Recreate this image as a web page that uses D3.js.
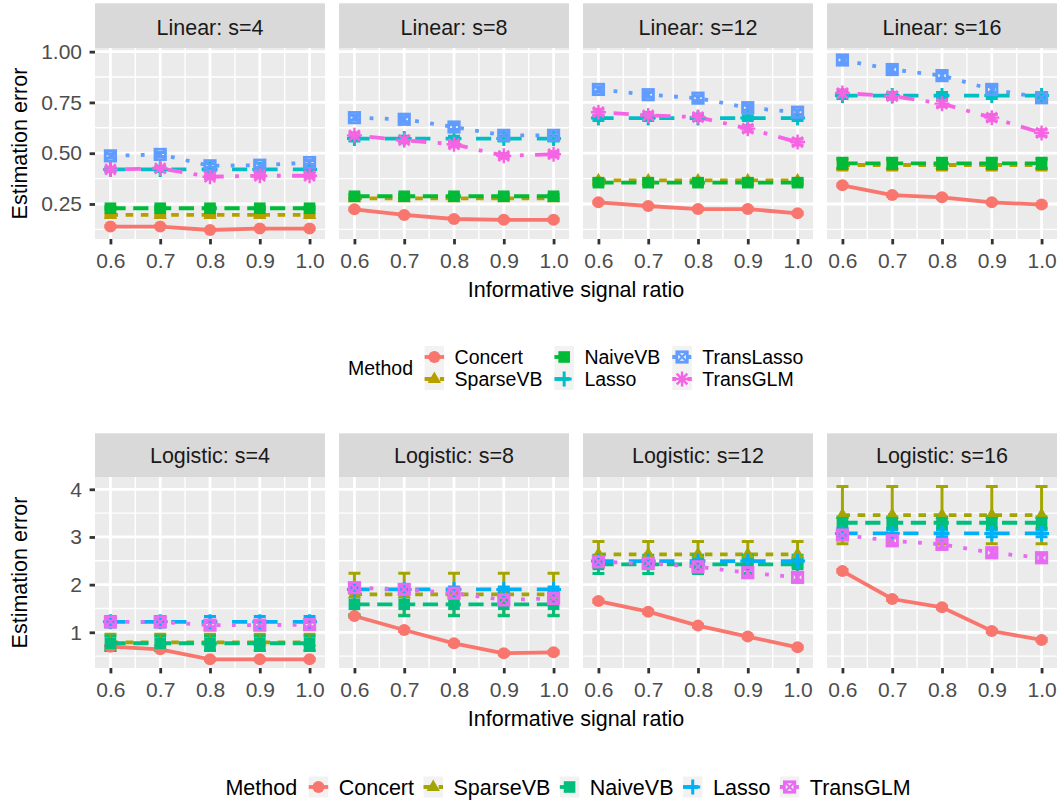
<!DOCTYPE html>
<html>
<head>
<meta charset="utf-8">
<script src="https://cdn.jsdelivr.net/npm/d3@7"></script>
<style>
  body { margin: 0; background: #fff; }
  svg { display: block; }
  text { font-family: "Liberation Sans", Arial, Helvetica, sans-serif; }
</style>
</head>
<body>
<div id="chart"></div>
<script>
/* -----------------    DATA     ------------------ */

const ratios = [0.6, 0.7, 0.8, 0.9, 1.0];
const ratioMinor = [0.65, 0.75, 0.85, 0.95];
const sizes = [4, 8, 12, 16];

const linearMethods = ['Concert', 'SparseVB', 'NaiveVB', 'Lasso', 'TransLasso', 'TransGLM'];
const logisticMethods = ['Concert', 'SparseVB', 'NaiveVB', 'Lasso', 'TransGLM'];

const linearTicks = [0.25, 0.50, 0.75, 1.00];
const linearMinor = [0.125, 0.375, 0.625, 0.875];
const logisticTicks = [1, 2, 3, 4];
const logisticMinor = [0.5, 1.5, 2.5, 3.5];

// Linear model, one row per s = 4, 8, 12, 16
const linConcert = [
    [0.139, 0.139, 0.122, 0.129, 0.129],
    [0.224, 0.196, 0.176, 0.172, 0.172],
    [0.258, 0.240, 0.225, 0.225, 0.204],
    [0.342, 0.294, 0.283, 0.258, 0.247]
];
const linSparseVB = [
    [0.196, 0.196, 0.196, 0.196, 0.196],
    [0.278, 0.278, 0.278, 0.278, 0.278],
    [0.366, 0.366, 0.366, 0.366, 0.366],
    [0.442, 0.442, 0.442, 0.442, 0.442]
];
const linNaiveVB = [
    [0.229, 0.229, 0.229, 0.229, 0.229],
    [0.288, 0.288, 0.288, 0.288, 0.288],
    [0.355, 0.355, 0.355, 0.355, 0.355],
    [0.450, 0.450, 0.450, 0.450, 0.450]
];
const linLasso = [
    [0.420, 0.420, 0.420, 0.420, 0.420],
    [0.572, 0.572, 0.572, 0.572, 0.572],
    [0.673, 0.673, 0.673, 0.673, 0.673],
    [0.784, 0.784, 0.784, 0.784, 0.784]
];
const linTransLasso = [
    [0.487, 0.494, 0.438, 0.441, 0.454],
    [0.675, 0.667, 0.629, 0.588, 0.588],
    [0.814, 0.788, 0.771, 0.724, 0.702],
    [0.959, 0.912, 0.882, 0.814, 0.773]
];
const linTransGLM = [
    [0.420, 0.425, 0.384, 0.389, 0.389],
    [0.588, 0.564, 0.544, 0.487, 0.495],
    [0.702, 0.686, 0.678, 0.621, 0.555],
    [0.796, 0.781, 0.744, 0.675, 0.600]
];
// half width of the error bars, one per s
const linConcertErr = [0.004, 0.005, 0.005, 0.006];
const linSparseVBErr = [0.006, 0.008, 0.010, 0.025];
const linNaiveVBErr = [0.008, 0.010, 0.012, 0.025];
const linLassoErr = [0.010, 0.012, 0.012, 0.015];
const linTransLassoErr = [0.010, 0.012, 0.012, 0.015];
const linTransGLMErr = [0.010, 0.012, 0.015, 0.015];

// Logistic model, one row per s = 4, 8, 12, 16
const logConcert = [
    [0.698, 0.643, 0.434, 0.434, 0.434],
    [1.342, 1.048, 0.769, 0.560, 0.580],
    [1.656, 1.432, 1.140, 0.910, 0.685],
    [2.285, 1.698, 1.524, 1.027, 0.840]
];
const logSparseVB = [
    [0.790, 0.790, 0.790, 0.790, 0.790],
    [1.797, 1.797, 1.797, 1.797, 1.797],
    [2.635, 2.635, 2.635, 2.635, 2.635],
    [3.459, 3.459, 3.459, 3.459, 3.459]
];
const logNaiveVB = [
    [0.770, 0.770, 0.770, 0.770, 0.770],
    [1.587, 1.587, 1.587, 1.587, 1.587],
    [2.425, 2.425, 2.425, 2.425, 2.425],
    [3.298, 3.298, 3.298, 3.298, 3.298]
];
const logLasso = [
    [1.220, 1.220, 1.220, 1.220, 1.220],
    [1.900, 1.900, 1.900, 1.900, 1.900],
    [2.495, 2.495, 2.495, 2.495, 2.495],
    [3.075, 3.075, 3.075, 3.075, 3.075]
];
const logTransGLM = [
    [1.220, 1.220, 1.150, 1.150, 1.160],
    [1.935, 1.900, 1.820, 1.680, 1.710],
    [2.480, 2.446, 2.375, 2.250, 2.153],
    [3.040, 2.920, 2.845, 2.669, 2.564]
];
const logConcertErr = [0.02, 0.03, 0.03, 0.03];
const logSparseVBErr = [0.17, 0.44, 0.27, 0.60];
const logNaiveVBErr = [0.15, 0.24, 0.19, 0.12];
const logLassoErr = [0.11, 0.05, 0.05, 0.07];
const logTransGLMErr = [0.06, 0.08, 0.08, 0.08];

/* -----------------    STYLE     ------------------ */

const linearColors = ['#F8766D', '#B79F00', '#00BA38', '#00BFC4', '#619CFF', '#F564E3'];
const logisticColors = ['#F8766D', '#A3A500', '#00BF7D', '#00B0F6', '#E76BF3'];
const linearShapes = ['circle', 'triangle', 'square', 'plus', 'squareX', 'asterisk'];
const logisticShapes = ['circle', 'triangle', 'square', 'plus', 'squareX'];
const linearDashes = ['solid', '22', '42', '44', '13', '1343'];
const logisticDashes = ['solid', '22', '42', '44', '13'];

const lineW = 3.8;
const fontMain = 21.5;
const fontTick = 21;
const panelW = 230;
const panelLefts = [95, 339, 583, 827];
const errWidth = 0.024;

const dashArray = code => code === 'solid' ? null :
    code.split('').map(c => (+c) * lineW).join(',');

/* -----------------    LOGIC     ------------------ */

const svg = d3.select('#chart')
    .append('svg')
    .attr('width', 1060)
    .attr('height', 804);

const x = d3.scaleLinear().domain([0.569, 1.031]).range([0, panelW]);

function drawShape(g, shape, color) {
    if (shape === 'circle') {
        g.append('circle').attr('r', 6).attr('fill', color);
    } else if (shape === 'triangle') {
        g.append('path').attr('d', 'M0,-7.6L6.7,4L-6.7,4Z').attr('fill', color);
    } else if (shape === 'square') {
        g.append('rect').attr('x', -5.8).attr('y', -5.8)
            .attr('width', 11.6).attr('height', 11.6).attr('fill', color);
    } else if (shape === 'plus') {
        g.append('path').attr('d', 'M-7.5,0H7.5M0,-7.5V7.5')
            .attr('stroke', color).attr('stroke-width', 3).attr('fill', 'none');
    } else if (shape === 'squareX') {
        g.append('rect').attr('x', -5.2).attr('y', -5.2)
            .attr('width', 10.4).attr('height', 10.4)
            .attr('fill', 'none').attr('stroke', color).attr('stroke-width', 2.8);
        g.append('path').attr('d', 'M-5.2,-5.2L5.2,5.2M5.2,-5.2L-5.2,5.2')
            .attr('stroke', color).attr('stroke-width', 2.2);
    } else if (shape === 'asterisk') {
        g.append('path')
            .attr('d', 'M-7.5,0H7.5M0,-7.5V7.5M-5.3,-5.3L5.3,5.3M5.3,-5.3L-5.3,5.3')
            .attr('stroke', color).attr('stroke-width', 2.4).attr('fill', 'none');
    }
}

function drawFacetRow(cfg) {
    const y = d3.scaleLinear().domain(cfg.yDomain).range([cfg.bottom, cfg.top]);
    const line = d3.line().x(d => x(d.r)).y(d => y(d.v));

    sizes.forEach((s, p) => {
        const g = svg.append('g').attr('transform', `translate(${panelLefts[p]},0)`);

        // strip
        g.append('rect')
            .attr('x', 0).attr('y', cfg.stripTop)
            .attr('width', panelW).attr('height', cfg.top - cfg.stripTop)
            .attr('fill', '#D9D9D9');
        g.append('text')
            .attr('x', panelW / 2).attr('y', cfg.stripBase)
            .attr('text-anchor', 'middle')
            .attr('font-size', fontMain)
            .attr('fill', '#1A1A1A')
            .text(`${cfg.label}: s=${s}`);

        // panel background + grid
        g.append('rect')
            .attr('x', 0).attr('y', cfg.top)
            .attr('width', panelW).attr('height', cfg.bottom - cfg.top)
            .attr('fill', '#EBEBEB');

        const grid = g.append('g').attr('stroke', '#fff');
        grid.selectAll('.ymin').data(cfg.yMinor).enter().append('line')
            .attr('x1', 0).attr('x2', panelW)
            .attr('y1', d => y(d)).attr('y2', d => y(d))
            .attr('stroke-width', 1.4);
        grid.selectAll('.xmin').data(ratioMinor).enter().append('line')
            .attr('y1', cfg.top).attr('y2', cfg.bottom)
            .attr('x1', d => x(d)).attr('x2', d => x(d))
            .attr('stroke-width', 1.4);
        grid.selectAll('.ymaj').data(cfg.yTicks).enter().append('line')
            .attr('x1', 0).attr('x2', panelW)
            .attr('y1', d => y(d)).attr('y2', d => y(d))
            .attr('stroke-width', 2.8);
        grid.selectAll('.xmaj').data(ratios).enter().append('line')
            .attr('y1', cfg.top).attr('y2', cfg.bottom)
            .attr('x1', d => x(d)).attr('x2', d => x(d))
            .attr('stroke-width', 2.8);

        const rows = cfg.series.map((ser, m) => ratios.map((r, i) => ({
            r, v: ser[p][i], e: cfg.errs[m][p]
        })));

        // lines
        rows.forEach((data, m) => {
            g.append('path')
                .datum(data)
                .attr('d', line)
                .attr('fill', 'none')
                .attr('stroke', cfg.colors[m])
                .attr('stroke-width', lineW)
                .attr('stroke-dasharray', dashArray(cfg.dashes[m]));
        });

        // error bars
        rows.forEach((data, m) => {
            const eb = g.append('g')
                .attr('stroke', cfg.colors[m])
                .attr('stroke-width', 3)
                .attr('fill', 'none');
            eb.selectAll('path').data(data).enter().append('path')
                .attr('d', d => {
                    const x0 = x(d.r - errWidth / 2), x1 = x(d.r + errWidth / 2);
                    const yt = y(d.v + d.e), yb = y(d.v - d.e);
                    return `M${x0},${yt}H${x1}M${x(d.r)},${yt}V${yb}M${x0},${yb}H${x1}`;
                });
        });

        // points
        rows.forEach((data, m) => {
            data.forEach(d => {
                const pg = g.append('g').attr('transform', `translate(${x(d.r)},${y(d.v)})`);
                drawShape(pg, cfg.shapes[m], cfg.colors[m]);
            });
        });

        // x axis
        const xa = g.append('g')
            .attr('transform', `translate(0,${cfg.bottom})`)
            .call(d3.axisBottom(x).tickValues(ratios).tickFormat(d3.format('.1f'))
                .tickSize(5.4).tickPadding(8.5));
        styleAxis(xa);

        // y axis, first column only
        if (p === 0) {
            const ya = g.append('g')
                .call(d3.axisLeft(y).tickValues(cfg.yTicks).tickFormat(cfg.yFormat)
                    .tickSize(5.4).tickPadding(7.6));
            styleAxis(ya);
        }
    });

    // axis titles
    svg.append('text')
        .attr('transform', `translate(27,${(cfg.top + cfg.bottom) / 2}) rotate(-90)`)
        .attr('text-anchor', 'middle')
        .attr('font-size', fontMain)
        .attr('fill', '#000')
        .text('Estimation error');
    svg.append('text')
        .attr('x', (panelLefts[0] + panelLefts[3] + panelW) / 2)
        .attr('y', cfg.bottom + 58)
        .attr('text-anchor', 'middle')
        .attr('font-size', fontMain)
        .attr('fill', '#000')
        .text('Informative signal ratio');
}

function styleAxis(a) {
    a.select('.domain').remove();
    a.selectAll('.tick line').attr('stroke', '#333333').attr('stroke-width', 2.8);
    a.selectAll('.tick text')
        .attr('fill', '#4D4D4D')
        .attr('font-size', fontTick)
        .attr('font-family', '"Liberation Sans", Arial, sans-serif');
}

function drawKey(g, color, shape, dash, kw, kh) {
    g.append('rect').attr('width', kw).attr('height', kh).attr('fill', '#F2F2F2');
    g.append('line')
        .attr('x1', 0).attr('x2', kw)
        .attr('y1', kh / 2).attr('y2', kh / 2)
        .attr('stroke', color).attr('stroke-width', lineW)
        .attr('stroke-dasharray', dashArray(dash));
    const pg = g.append('g').attr('transform', `translate(${kw / 2},${kh / 2})`);
    drawShape(pg, shape, color);
}

function drawLegend(cfg) {
    const lg = svg.append('g');
    const kw = 19.5, kh = cfg.keyH;
    const keysTop = cfg.midY - kh * cfg.rows / 2;
    const title = lg.append('text')
        .attr('x', 0).attr('y', cfg.midY)
        .attr('dy', '0.35em')
        .attr('font-size', cfg.font)
        .attr('fill', '#000')
        .text('Method');
    let cx = title.node().getComputedTextLength() + 11.6;
    const nCol = Math.ceil(cfg.methods.length / cfg.rows);
    for (let c = 0; c < nCol; c++) {
        let maxW = 0;
        for (let r = 0; r < cfg.rows; r++) {
            const m = c * cfg.rows + r;
            if (m >= cfg.methods.length) break;
            const top = keysTop + r * kh;
            const kg = lg.append('g').attr('transform', `translate(${cx},${top})`);
            drawKey(kg, cfg.colors[m], cfg.shapes[m], cfg.dashes[m], kw, kh);
            const t = lg.append('text')
                .attr('x', cx + kw + 10.5).attr('y', top + kh / 2)
                .attr('dy', '0.35em')
                .attr('font-size', cfg.font)
                .attr('fill', '#000')
                .text(cfg.methods[m]);
            maxW = Math.max(maxW, t.node().getComputedTextLength());
        }
        cx += kw + 10.5 + maxW + cfg.gap;
    }
    // centre the whole legend on the requested x
    const total = cx - cfg.gap;
    lg.attr('transform', `translate(${cfg.centerX - total / 2},0)`);
}

drawFacetRow({
    label: 'Linear',
    stripTop: 3.3, stripBase: 35, top: 48, bottom: 239,
    yDomain: [0.0776, 1.018],
    yTicks: linearTicks, yMinor: linearMinor, yFormat: d3.format('.2f'),
    series: [linConcert, linSparseVB, linNaiveVB, linLasso, linTransLasso, linTransGLM],
    errs: [linConcertErr, linSparseVBErr, linNaiveVBErr, linLassoErr, linTransLassoErr, linTransGLMErr],
    colors: linearColors, shapes: linearShapes, dashes: linearDashes
});

drawFacetRow({
    label: 'Logistic',
    stripTop: 433.3, stripBase: 463, top: 477, bottom: 668,
    yDomain: [0.251, 4.258],
    yTicks: logisticTicks, yMinor: logisticMinor, yFormat: d3.format('d'),
    series: [logConcert, logSparseVB, logNaiveVB, logLasso, logTransGLM],
    errs: [logConcertErr, logSparseVBErr, logNaiveVBErr, logLassoErr, logTransGLMErr],
    colors: logisticColors, shapes: logisticShapes, dashes: logisticDashes
});

drawLegend({
    methods: linearMethods, colors: linearColors, shapes: linearShapes, dashes: linearDashes,
    centerX: 575.7, midY: 368, keyH: 22, rows: 2, font: 19.5, gap: 12
});

drawLegend({
    methods: logisticMethods, colors: logisticColors, shapes: logisticShapes, dashes: logisticDashes,
    centerX: 568, midY: 787, keyH: 21, rows: 1, font: fontMain, gap: 9.5
});
</script>
</body>
</html>
